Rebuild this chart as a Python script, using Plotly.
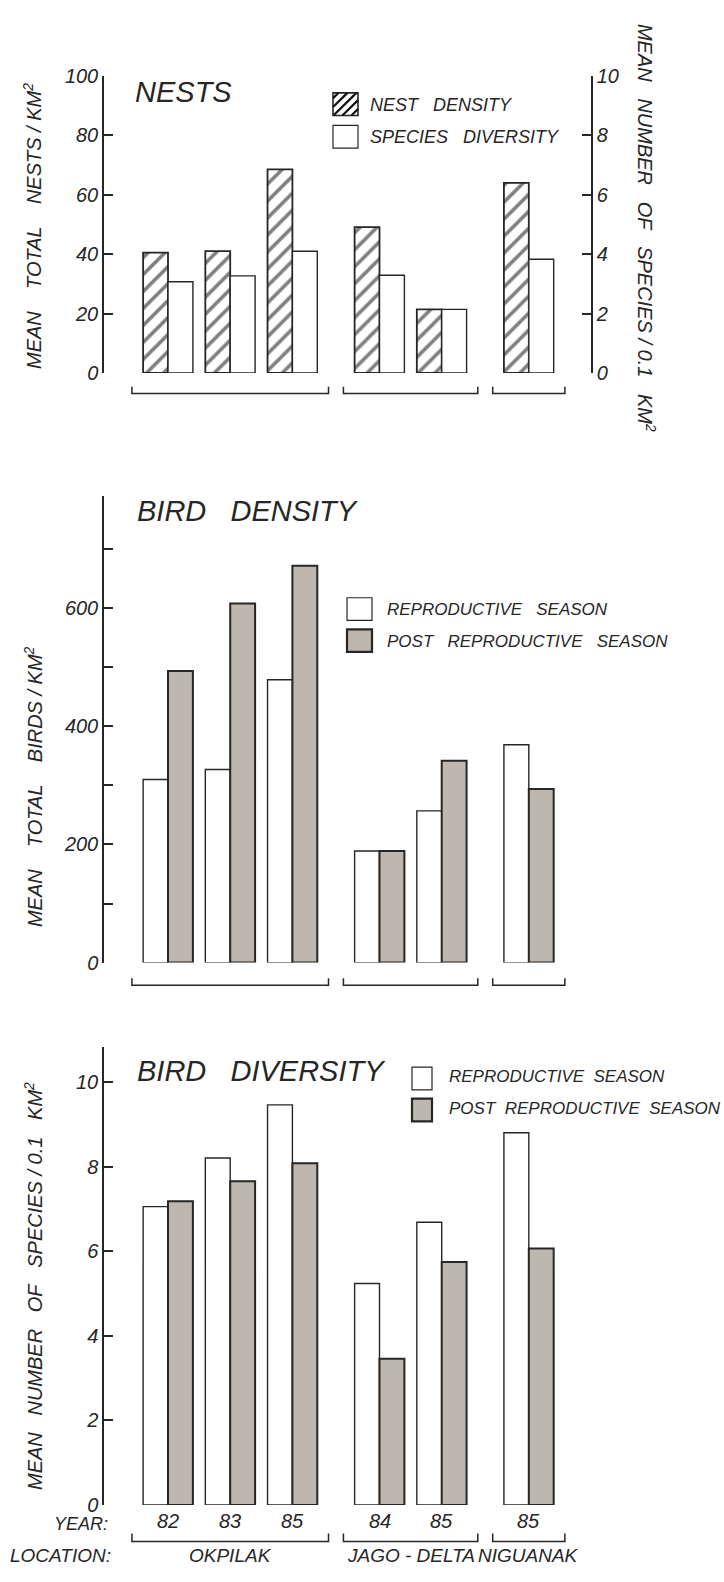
import plotly.graph_objects as go

W, H = 724, 1582

# ---------------- data ----------------
years = ["82", "83", "85", "84", "85", "85"]
locations = ["OKPILAK", "OKPILAK", "OKPILAK", "JAGO - DELTA", "JAGO - DELTA", "NIGUANAK"]
location_names = ["OKPILAK", "JAGO - DELTA", "NIGUANAK"]

nest_density = [40.5, 41.0, 68.6, 49.1, 21.4, 64.0]            # nests / km2 (left axis)
nest_species_diversity = [3.07, 3.27, 4.10, 3.29, 2.14, 3.83]  # species / 0.1 km2 (right axis)

bird_density_repro = [310, 327, 479, 189, 257, 369]
bird_density_post = [494, 608, 672, 189, 342, 294]

bird_div_repro = [7.06, 8.21, 9.47, 5.24, 6.69, 8.81]
bird_div_post = [7.19, 7.66, 8.09, 3.46, 5.75, 6.07]

# ---------------- style ----------------
INK = "#262626"
GRAY = "#bdb7af"
FONT = "Liberation Sans"
BAR_W = 0.4
GROUP_GAP = 0.4
BRACKET_PAD = 0.18


def px(x):
    return x / W


def py(y):
    return 1 - y / H


loc_index = [location_names.index(l) for l in locations]
xpos = [i + GROUP_GAP * loc_index[i] for i in range(len(years))]

fig = go.Figure()

white_marker = dict(color="white", line=dict(color=INK, width=1.4))
gray_marker = dict(color=GRAY, line=dict(color=INK, width=2))
hatch_marker = dict(color="white",
                    pattern=dict(shape="/", fgcolor="#000000", bgcolor="white",
                                 size=12, solidity=0.3),
                    line=dict(color=INK, width=1.8))

# Panel 1 : nests
fig.add_trace(go.Bar(x=xpos, y=nest_density, width=BAR_W, offset=-BAR_W,
                     marker=hatch_marker, xaxis="x", yaxis="y", showlegend=False))
fig.add_trace(go.Bar(x=xpos, y=nest_species_diversity, width=BAR_W, offset=0,
                     marker=white_marker, xaxis="x", yaxis="y2", showlegend=False))
# Panel 2 : bird density
fig.add_trace(go.Bar(x=xpos, y=bird_density_repro, width=BAR_W, offset=-BAR_W,
                     marker=white_marker, xaxis="x2", yaxis="y3", showlegend=False))
fig.add_trace(go.Bar(x=xpos, y=bird_density_post, width=BAR_W, offset=0,
                     marker=gray_marker, xaxis="x2", yaxis="y3", showlegend=False))
# Panel 3 : bird diversity
fig.add_trace(go.Bar(x=xpos, y=bird_div_repro, width=BAR_W, offset=-BAR_W,
                     marker=white_marker, xaxis="x3", yaxis="y4", showlegend=False))
fig.add_trace(go.Bar(x=xpos, y=bird_div_post, width=BAR_W, offset=0,
                     marker=gray_marker, xaxis="x3", yaxis="y4", showlegend=False))

XDOM = [px(104), px(591)]
XRANGE = [-1.029, 6.80]
xax = dict(domain=XDOM, range=XRANGE, visible=False, fixedrange=True)

yax = dict(showline=True, linecolor=INK, linewidth=1.5, ticks="inside", ticklen=9,
           tickwidth=1.5, tickcolor=INK, showgrid=False, zeroline=False,
           tickmode="linear", tick0=0,
           tickfont=dict(family=FONT, size=20, color=INK, style="italic"))

fig.update_layout(
    width=W, height=H,
    margin=dict(l=0, r=0, t=0, b=0),
    paper_bgcolor="white", plot_bgcolor="rgba(0,0,0,0)",
    barmode="overlay",
    font=dict(family=FONT, color=INK, style="italic"),
    xaxis=dict(xax, anchor="y"),
    xaxis2=dict(xax, anchor="y3"),
    xaxis3=dict(xax, anchor="y4"),
    yaxis=dict(yax, domain=[py(367), py(66)], range=[0, 100], anchor="x", dtick=20),
    yaxis2=dict(yax, overlaying="y", side="right", anchor="x", range=[0, 10], dtick=2),
    yaxis3=dict(yax, domain=[py(965), py(492)], range=[0, 790], anchor="x2", dtick=200,
                minor=dict(dtick=100, tick0=0, ticks="inside", ticklen=9, tickwidth=1.5,
                           tickcolor=INK, showgrid=False)),
    yaxis4=dict(yax, domain=[py(1515), py(1051)], range=[0, 10.83], anchor="x3", dtick=2),
)

shapes = []
annotations = []


def text(x, y, s, size, xanchor="left", angle=0):
    annotations.append(dict(x=px(x), y=py(y), xref="paper", yref="paper", text=s,
                            showarrow=False, xanchor=xanchor, yanchor="middle",
                            textangle=angle,
                            font=dict(family=FONT, size=size, color=INK, style="italic")))


def box(x0, y0, x1, y1, fill, lw):
    shapes.append(dict(type="rect", xref="paper", yref="paper",
                       x0=px(x0), x1=px(x1), y0=py(y1), y1=py(y0),
                       fillcolor=fill, line=dict(color=INK, width=lw)))


def hatch_box(x0, y0, x1, y1, step=9):
    box(x0, y0, x1, y1, "white", 1.6)
    c = x0 + y0 + step * 0.6
    while c < x1 + y1:
        xa = max(x0, c - y1)
        xb = min(x1, c - y0)
        if xb > xa:
            shapes.append(dict(type="line", xref="paper", yref="paper",
                               x0=px(xa), y0=py(c - xa), x1=px(xb), y1=py(c - xb),
                               line=dict(color="#111111", width=2.2)))
        c += step


def brackets(xref, ytop, ybot):
    for name in location_names:
        xs = [xpos[i] for i in range(len(xpos)) if locations[i] == name]
        a = min(xs) - BAR_W - BRACKET_PAD
        b = max(xs) + BAR_W + BRACKET_PAD
        shapes.append(dict(type="path", xref=xref, yref="paper",
                           path=f"M {a},{py(ytop)} L {a},{py(ybot)} L {b},{py(ybot)} L {b},{py(ytop)}",
                           line=dict(color=INK, width=1.5)))


NB = "\u00a0"
G3 = NB * 3
G4 = NB * 4
G2 = NB * 2

# ---- panel 1 texts ----
text(133, 82, "NESTS", 29)
hatch_box(333, 83, 358, 106)
box(333, 116, 358, 139, "white", 1.2)
text(368, 95, "NEST" + G3 + "DENSITY", 18)
text(368, 128, "SPECIES" + G3 + "DIVERSITY", 18)
text(33, 218, "MEAN" + G4 + "TOTAL" + G4 + "NESTS / KM<sup>2</sup>", 20, "center", -90)
text(646, 220, "MEAN" + G3 + "NUMBER" + G3 + "OF" + G3 + "SPECIES / 0.1" + G3 + "KM<sup>2</sup>",
     20, "center", 90)
brackets("x", 381, 388)

# ---- panel 2 texts ----
text(135, 507, "BIRD" + G3 + "DENSITY", 29)
box(347, 595, 372, 618, "white", 1.2)
box(347, 627, 372, 650, GRAY, 2.2)
text(385, 607, "REPRODUCTIVE" + G3 + "SEASON", 17)
text(385, 639, "POST" + G3 + "REPRODUCTIVE" + G3 + "SEASON", 17)
text(33, 787, "MEAN" + G4 + "TOTAL" + G4 + "BIRDS / KM<sup>2</sup>", 20, "center", -90)
brackets("x2", 981, 988)

# ---- panel 3 texts ----
text(135, 1075, "BIRD" + G3 + "DIVERSITY", 29)
box(412, 1071, 432, 1094, "white", 1.2)
box(412, 1103, 432, 1126, GRAY, 2.2)
text(447, 1081, "REPRODUCTIVE" + G2 + "SEASON", 17)
text(447, 1113, "POST" + G2 + "REPRODUCTIVE" + G2 + "SEASON", 17)
text(33, 1293, "MEAN" + G3 + "NUMBER" + G3 + "OF" + G3 + "SPECIES / 0.1" + G3 + "KM<sup>2</sup>",
     20, "center", -90)
brackets("x3", 1544, 1552)

# year and location labels (positioned through the x3 data axis)
for xv, yr in zip(xpos, years):
    annotations.append(dict(x=xv, y=py(1531), xref="x3", yref="paper", text=yr,
                            showarrow=False, xanchor="center", yanchor="middle",
                            font=dict(family=FONT, size=20, color=INK, style="italic")))
text(110, 1534, "YEAR:", 18, "right")
text(8, 1566, "LOCATION:", 19, "left")
for name in location_names:
    xs = [xpos[i] for i in range(len(xpos)) if locations[i] == name]
    annotations.append(dict(x=(min(xs) + max(xs)) / 2, y=py(1566), xref="x3", yref="paper",
                            text=name.replace(" ", NB), showarrow=False,
                            xanchor="center", yanchor="middle",
                            font=dict(family=FONT, size=19, color=INK, style="italic")))

fig.update_layout(shapes=shapes, annotations=annotations)
fig.write_html("out.html")
